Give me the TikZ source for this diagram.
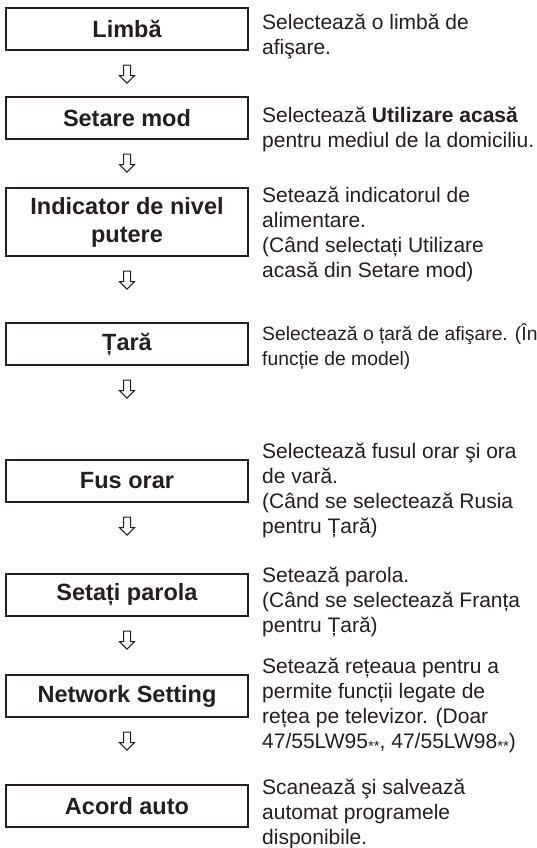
\documentclass[tikz,border=0pt]{standalone}
\usepackage{fontspec}
\setmainfont{Liberation Sans}
\usetikzlibrary{shapes.arrows,calc}
\definecolor{ink}{HTML}{231F20}
\begin{document}
\begin{tikzpicture}[x=1pt,y=-1pt,
  stepbox/.style={draw=ink, line width=1.2pt, minimum width=242pt, minimum height=42pt,
    inner sep=0pt, font=\fontsize{23.5}{28}\selectfont\bfseries, text=ink, align=center},
  downarrow/.style={single arrow, draw=ink, line width=1pt, shape border rotate=270,
    minimum height=18pt, inner sep=3pt, single arrow head extend=4pt, anchor=tail},
  desc/.style={anchor=north west, align=left, inner sep=0pt,
    font=\fontsize{21}{25}\selectfont, text=ink},
  smalldesc/.style={desc, font=\fontsize{19.3}{25}\selectfont}]
\useasboundingbox (0,0) rectangle (537,848);
\newcommand{\fl}{\rule{0pt}{20pt}}
\newcommand{\stars}{{\fontsize{15}{15}\selectfont\raisebox{-3pt}{**}}}
% boxes
\node[stepbox] (b1) at (127,29) {Limbă};
\node[stepbox] (b2) at (127,118) {Setare mod};
\node[stepbox, minimum height=68pt] (b3) at (127,222) {Indicator de nivel\\putere};
\node[stepbox] (b4) at (127,344) {Țară};
\node[stepbox] (b5) at (127,481) {Fus orar};
\node[stepbox] (b6) at (127,595) {Setați parola};
\node[stepbox] (b7) at (127,696) {Network Setting};
\node[stepbox] (b8) at (127,806) {Acord auto};
% arrows
\node[downarrow] (a1) at ($(b1.south)+(0,14)$) {};
\node[downarrow] (a2) at ($(b2.south)+(0,14)$) {};
\node[downarrow] (a3) at ($(b3.south)+(0,14)$) {};
\node[downarrow] (a4) at ($(b4.south)+(0,14)$) {};
\node[downarrow] (a5) at ($(b5.south)+(0,14)$) {};
\node[downarrow] (a6) at ($(b6.south)+(0,14)$) {};
\node[downarrow] (a7) at ($(b7.south)+(0,14)$) {};
% descriptions
\node[desc] (d1) at (262,9) {\fl Selectează o limbă de\\afişare.};
\node[desc] (d2) at (262,102) {\fl Selectează \textbf{Utilizare acasă}\\pentru mediul de la domiciliu.};
\node[desc] (d3) at (262,182) {\fl Setează indicatorul de\\alimentare.\\(Când selectați Utilizare\\acasă din Setare mod)};
\node[smalldesc] (d4) at (262,320) {\fl Selectează o țară de afişare. (În\\funcție de model)};
\node[desc] (d5) at (262,438) {\fl Selectează fusul orar şi ora\\de vară.\\(Când se selectează Rusia\\pentru Țară)};
\node[desc] (d6) at (262,562) {\fl Setează parola.\\(Când se selectează Franța\\pentru Țară)};
\node[desc] (d7) at (262,653) {\fl Setează rețeaua pentru a\\permite funcții legate de\\rețea pe televizor. (Doar\\47/55LW95\stars, 47/55LW98\stars)};
\node[desc] (d8) at (262,774) {\fl Scanează şi salvează\\automat programele\\disponibile.};
\end{tikzpicture}
\end{document}
